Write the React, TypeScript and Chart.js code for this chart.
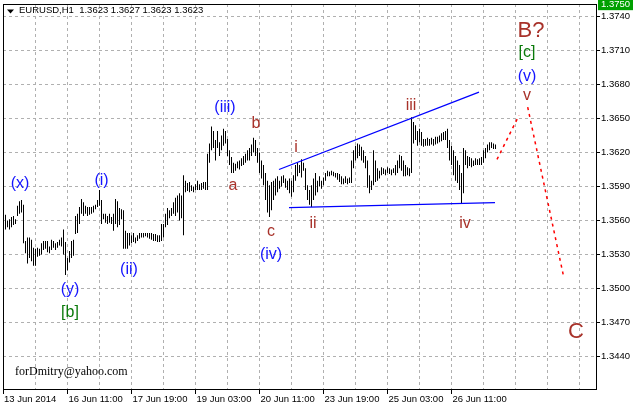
import React, { useEffect, useRef } from "react";
import { Chart, registerables } from "chart.js";

Chart.register(...registerables);

// ---- EURUSD H1 bars (index = hourly bar, values = price) ----
const highs = [
  1.3565, 1.3560, 1.3561, 1.3563, 1.3564, 1.3561, 1.3573, 1.3577, 1.3578, 1.3574,
  1.3542, 1.3545, 1.3545, 1.3543, 1.3536, 1.3535, 1.3536, 1.3535, 1.3540, 1.3542,
  1.3542, 1.3542, 1.3537, 1.3543, 1.3542, 1.3540, 1.3541, 1.3543, 1.3545, 1.3552,
  1.3541, 1.3527, 1.3533, 1.3542, 1.3543, 1.3564, 1.3566, 1.3572, 1.3579, 1.3576,
  1.3573, 1.3572, 1.3572, 1.3572, 1.3573, 1.3574, 1.3578, 1.3587, 1.3578, 1.3566,
  1.3566, 1.3564, 1.3566, 1.3563, 1.3566, 1.3579, 1.3577, 1.3571, 1.3570, 1.3569,
  1.3551, 1.3549, 1.3549, 1.3547, 1.3549, 1.3545, 1.3547, 1.3549, 1.3549, 1.3549,
  1.3549, 1.3549, 1.3549, 1.3549, 1.3548, 1.3548, 1.3547, 1.3547, 1.3557, 1.3557,
  1.3566, 1.3571, 1.3569, 1.3571, 1.3576, 1.3580, 1.3582, 1.3584, 1.3582, 1.3600,
  1.3595, 1.3593, 1.3594, 1.3591, 1.3590, 1.3592, 1.3595, 1.3592, 1.3593, 1.3594,
  1.3594, 1.3619, 1.3628, 1.3643, 1.3639, 1.3631, 1.3639, 1.3629, 1.3635, 1.3641,
  1.3639, 1.3632, 1.3622, 1.3616, 1.3611, 1.3610, 1.3612, 1.3613, 1.3615, 1.3617,
  1.3619, 1.3622, 1.3624, 1.3627, 1.3633, 1.3631, 1.3624, 1.3620, 1.3613, 1.3609,
  1.3602, 1.3595, 1.3591, 1.3594, 1.3595, 1.3597, 1.3599, 1.3595, 1.3599, 1.3600,
  1.3597, 1.3595, 1.3597, 1.3595, 1.3600, 1.3609, 1.3611, 1.3609, 1.3614, 1.3611,
  1.3606, 1.3591, 1.3587, 1.3591, 1.3597, 1.3602, 1.3595, 1.3599, 1.3595, 1.3598,
  1.3602, 1.3604, 1.3603, 1.3604, 1.3603, 1.3602, 1.3602, 1.3601, 1.3599, 1.3597,
  1.3599, 1.3597, 1.3598, 1.3613, 1.3622, 1.3626, 1.3628, 1.3627, 1.3625, 1.3622,
  1.3617, 1.3613, 1.3600, 1.3595, 1.3622, 1.3613, 1.3606, 1.3604, 1.3607, 1.3606,
  1.3605, 1.3607, 1.3606, 1.3605, 1.3606, 1.3609, 1.3613, 1.3618, 1.3617, 1.3613,
  1.3609, 1.3607, 1.3606, 1.3651, 1.3647, 1.3644, 1.3639, 1.3641, 1.3638, 1.3632,
  1.3632, 1.3633, 1.3632, 1.3633, 1.3632, 1.3634, 1.3634, 1.3635, 1.3637, 1.3638,
  1.3639, 1.3641, 1.3631, 1.3626, 1.3622, 1.3617, 1.3613, 1.3609, 1.3602, 1.3624,
  1.3622, 1.3617, 1.3616, 1.3615, 1.3613, 1.3615, 1.3614, 1.3615, 1.3616, 1.3622,
  1.3624, 1.3627, 1.3629, 1.3629, 1.3628, 1.3627,
];
const lows = [
  1.3552, 1.3554, 1.3552, 1.3554, 1.3556, 1.3557, 1.3564, 1.3566, 1.3567, 1.3540,
  1.3531, 1.3522, 1.3527, 1.3524, 1.3520, 1.3520, 1.3528, 1.3529, 1.3530, 1.3534,
  1.3535, 1.3532, 1.3531, 1.3534, 1.3536, 1.3534, 1.3536, 1.3538, 1.3537, 1.3530,
  1.3512, 1.3516, 1.3523, 1.3527, 1.3529, 1.3548, 1.3549, 1.3557, 1.3566, 1.3564,
  1.3566, 1.3564, 1.3565, 1.3566, 1.3567, 1.3570, 1.3572, 1.3573, 1.3557, 1.3561,
  1.3558, 1.3557, 1.3558, 1.3557, 1.3551, 1.3557, 1.3554, 1.3556, 1.3561, 1.3535,
  1.3535, 1.3535, 1.3538, 1.3540, 1.3541, 1.3540, 1.3542, 1.3544, 1.3545, 1.3545,
  1.3546, 1.3545, 1.3544, 1.3543, 1.3542, 1.3542, 1.3541, 1.3541, 1.3542, 1.3545,
  1.3554, 1.3556, 1.3562, 1.3564, 1.3566, 1.3564, 1.3567, 1.3560, 1.3562, 1.3547,
  1.3585, 1.3586, 1.3585, 1.3586, 1.3585, 1.3587, 1.3587, 1.3587, 1.3587, 1.3588,
  1.3587, 1.3587, 1.3611, 1.3622, 1.3624, 1.3613, 1.3624, 1.3617, 1.3622, 1.3626,
  1.3628, 1.3617, 1.3609, 1.3602, 1.3602, 1.3604, 1.3606, 1.3605, 1.3608, 1.3609,
  1.3611, 1.3613, 1.3613, 1.3617, 1.3620, 1.3617, 1.3611, 1.3602, 1.3597, 1.3591,
  1.3578, 1.3567, 1.3563, 1.3569, 1.3578, 1.3582, 1.3585, 1.3588, 1.3590, 1.3593,
  1.3589, 1.3587, 1.3584, 1.3581, 1.3585, 1.3595, 1.3599, 1.3602, 1.3598, 1.3604,
  1.3587, 1.3578, 1.3574, 1.3572, 1.3578, 1.3582, 1.3585, 1.3590, 1.3588, 1.3591,
  1.3595, 1.3599, 1.3599, 1.3600, 1.3599, 1.3598, 1.3596, 1.3594, 1.3592, 1.3592,
  1.3593, 1.3592, 1.3593, 1.3593, 1.3606, 1.3613, 1.3615, 1.3617, 1.3613, 1.3611,
  1.3606, 1.3589, 1.3584, 1.3587, 1.3591, 1.3594, 1.3595, 1.3597, 1.3600, 1.3601,
  1.3600, 1.3602, 1.3601, 1.3600, 1.3602, 1.3600, 1.3602, 1.3606, 1.3604, 1.3599,
  1.3599, 1.3600, 1.3599, 1.3602, 1.3628, 1.3631, 1.3626, 1.3629, 1.3626, 1.3625,
  1.3626, 1.3626, 1.3626, 1.3627, 1.3626, 1.3627, 1.3628, 1.3629, 1.3630, 1.3631,
  1.3631, 1.3624, 1.3613, 1.3609, 1.3600, 1.3595, 1.3593, 1.3587, 1.3575, 1.3584,
  1.3609, 1.3606, 1.3608, 1.3607, 1.3608, 1.3609, 1.3609, 1.3609, 1.3609, 1.3611,
  1.3615, 1.3620, 1.3622, 1.3624, 1.3623, 1.3623,
];

// ---- axis ticks ----
const timeTickIndex = [-1.25, 31, 63, 95, 127, 159, 191, 223];
const timeTickLabels = [
  "13 Jun 2014", "16 Jun 11:00", "17 Jun 19:00", "19 Jun 03:00",
  "20 Jun 11:00", "23 Jun 19:00", "25 Jun 03:00", "26 Jun 11:00",
];
const priceTicks = [1.344, 1.347, 1.35, 1.353, 1.356, 1.359, 1.362, 1.365, 1.368, 1.371, 1.374];

// ---- drawn objects (bar index, price) ----
const upperLineX = [136.75, 236.75];
const upperLineY = [1.3605, 1.36732];
const lowerLineX = [141.75, 244.75];
const lowerLineY = [1.35713, 1.35757];
const projUpX = [245.75, 256.75];
const projUpY = [1.36139, 1.36527];
const projDownX = [261.1, 279.25];
const projDownY = [1.366, 1.35089];

// ---- wave labels ----
const waveTexts = ["(x)", "(y)", "[b]", "(i)", "(ii)", "(iii)", "a", "b", "c", "(iv)", "i", "ii", "iii", "iv", "v", "(v)", "[c]", "B?", "C"];
const waveBars = [7.25, 32.25, 32.25, 48, 61.75, 109.75, 113.75, 125.25, 132.75, 132.75, 145.25, 153.75, 202.75, 229.75, 260.75, 260.75, 260.75, 262.75, 285.25];
const wavePrices = [1.35927, 1.34992, 1.34789, 1.35954, 1.35169, 1.36597, 1.35909, 1.36465, 1.35504, 1.35301, 1.36253, 1.35583, 1.36624, 1.35583, 1.36703, 1.36871, 1.37082, 1.37285, 1.3463];
const waveDegree = ["minor", "minor", "inter", "minor", "minor", "minor", "minute", "minute", "minute", "minor", "minute", "minute", "minute", "minute", "minute", "minor", "inter", "primary", "primary"];

const titleText = "EURUSD,H1  1.3623 1.3627 1.3623 1.3623";
const markerPrice = 1.375;
const watermark = "forDmitry@yahoo.com";

const SANS = '"Liberation Sans", Arial, sans-serif';
const SERIF = '"Liberation Serif", "Times New Roman", serif';

const degreeStyle: Record<string, { color: string; size: number }> = {
  minor: { color: "#1414ff", size: 16 },
  minute: { color: "#a8322a", size: 16 },
  inter: { color: "#0a7a0a", size: 16 },
  primary: { color: "#a8322a", size: 22 },
};

function toPts(xs: number[], ys: number[]) {
  return xs.map((x, k) => ({ x, y: ys[k] }));
}

function drawCentered(ctx: CanvasRenderingContext2D, text: string, cx: number, cy: number, align: CanvasTextAlign = "center") {
  ctx.textAlign = align;
  ctx.textBaseline = "alphabetic";
  const m = ctx.measureText(text);
  const asc = m.actualBoundingBoxAscent;
  const desc = m.actualBoundingBoxDescent;
  ctx.fillText(text, cx, cy + (asc - desc) / 2);
}

export default function App() {
  const ref = useRef<HTMLCanvasElement>(null);

  useEffect(() => {
    const canvas = ref.current;
    if (!canvas) return;
    const bars = highs.map((h, i) => ({ x: i, y: [lows[i], h] }));
    const labelMap = new Map<number, string>(timeTickIndex.map((v, k) => [v, timeTickLabels[k]]));

    const overlay = {
      id: "overlay",
      afterDraw(chart: any) {
        const { ctx, chartArea: a, scales } = chart;
        const xs = scales.x;
        const ys = scales.y;
        ctx.save();
        // wave labels
        waveTexts.forEach((t, k) => {
          const st = degreeStyle[waveDegree[k]];
          ctx.fillStyle = st.color;
          ctx.font = `${st.size}px ${SANS}`;
          drawCentered(ctx, t, xs.getPixelForValue(waveBars[k]), ys.getPixelForValue(wavePrices[k]));
        });
        // frame
        ctx.strokeStyle = "#000";
        ctx.lineWidth = 1;
        ctx.setLineDash([]);
        const l = Math.round(a.left) + 0.5;
        const t = Math.round(a.top) + 0.5;
        const r = Math.round(a.right) + 0.5;
        const b = Math.round(a.bottom) + 0.5;
        ctx.strokeRect(l, t, r - l, b - t);
        // title
        ctx.fillStyle = "#000";
        ctx.beginPath();
        ctx.moveTo(7, 9.5);
        ctx.lineTo(14, 9.5);
        ctx.lineTo(10.5, 13.5);
        ctx.closePath();
        ctx.fill();
        ctx.font = `9.5px ${SANS}`;
        drawCentered(ctx, titleText, 19, 11, "left");
        // watermark
        ctx.font = `12px ${SERIF}`;
        drawCentered(ctx, watermark, 15, 372, "left");
        // green price marker
        const py = ys.getPixelForValue(markerPrice);
        ctx.fillStyle = "#00a000";
        ctx.fillRect(598, py - 6, 35, 11);
        ctx.fillStyle = "#fff";
        ctx.font = `9.5px ${SANS}`;
        drawCentered(ctx, markerPrice.toFixed(4), 601, py - 1, "left");
        ctx.restore();
      },
    };

    const chart = new Chart(canvas, {
      type: "bar",
      data: {
        datasets: [
          {
            type: "bar",
            data: bars as any,
            backgroundColor: "#000",
            borderWidth: 0,
            barThickness: 1,
            inflateAmount: 0,
            order: 3,
          } as any,
          {
            type: "line",
            data: toPts(upperLineX, upperLineY),
            borderColor: "#0000ff",
            borderWidth: 1.3,
            pointRadius: 0,
            order: 1,
          },
          {
            type: "line",
            data: toPts(lowerLineX, lowerLineY),
            borderColor: "#0000ff",
            borderWidth: 1.3,
            pointRadius: 0,
            order: 1,
          },
          {
            type: "line",
            data: toPts(projUpX, projUpY),
            borderColor: "#ff0000",
            borderWidth: 1.5,
            borderDash: [3, 4],
            pointRadius: 0,
            order: 1,
          },
          {
            type: "line",
            data: toPts(projDownX, projDownY),
            borderColor: "#ff0000",
            borderWidth: 1.5,
            borderDash: [3, 4],
            pointRadius: 0,
            order: 1,
          },
        ],
      },
      options: {
        animation: false,
        responsive: false,
        devicePixelRatio: 1,
        events: [],
        layout: { padding: { left: 3, top: 4, right: 0, bottom: 0 } },
        plugins: {
          legend: { display: false },
          tooltip: { enabled: false },
        },
        scales: {
          x: {
            type: "linear",
            min: -1.25,
            max: 295.25,
            offset: false,
            grid: {
              offset: false,
              color: "#b0b0b0",
              lineWidth: 1,
              tickLength: 5,
              tickColor: (c: any) => (labelMap.has(c.tick?.value) ? "#000" : "rgba(0,0,0,0)"),
            },
            border: { display: false, dash: [3, 3] },
            ticks: {
              autoSkip: false,
              maxRotation: 0,
              minRotation: 0,
              align: "start",
              labelOffset: 1,
              padding: 0,
              color: "#000",
              font: { family: SANS, size: 9.5 },
              callback: (v: any) => labelMap.get(Number(v)) ?? "",
            },
            afterBuildTicks: (scale: any) => {
              const t = [{ value: -1.25 }];
              for (let v = 15; v <= 295; v += 16) t.push({ value: v });
              scale.ticks = t;
            },
            afterFit: (scale: any) => {
              scale.height = 17;
              scale.paddingLeft = 0;
              scale.paddingRight = 0;
              scale.paddingTop = 0;
              scale.paddingBottom = 0;
            },
          } as any,
          y: {
            type: "linear",
            position: "right",
            min: 1.3411324,
            max: 1.375103,
            grid: { color: "#b0b0b0", lineWidth: 1, tickLength: 4, tickColor: "#000" },
            border: { display: false, dash: [3, 3] },
            ticks: {
              autoSkip: false,
              padding: 1,
              color: "#000",
              font: { family: SANS, size: 9.5 },
              callback: (v: any) => Number(v).toFixed(4),
            },
            afterBuildTicks: (scale: any) => {
              scale.ticks = priceTicks.map((v) => ({ value: v }));
            },
            afterFit: (scale: any) => {
              scale.width = 37;
              scale.paddingLeft = 0;
              scale.paddingRight = 0;
              scale.paddingTop = 0;
              scale.paddingBottom = 0;
            },
          } as any,
        },
      },
      plugins: [overlay],
    } as any);

    return () => chart.destroy();
  }, []);

  return (
    <div style={{ position: "fixed", left: 0, top: 0, width: 633, height: 406, background: "#fff" }}>
      <canvas ref={ref} width={633} height={406} style={{ display: "block" }} />
    </div>
  );
}
